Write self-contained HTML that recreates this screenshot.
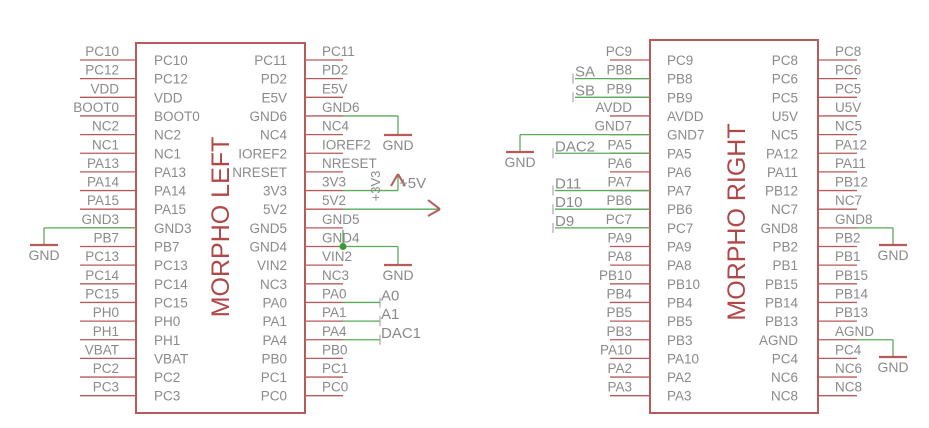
<!DOCTYPE html>
<html><head><meta charset="utf-8"><style>
html,body{margin:0;padding:0;background:#fff;}
svg{display:block;}
text{font-family:"Liberation Sans",sans-serif;fill:#8a8a8a;}
</style></head><body>
<svg id="s" width="929" height="428" viewBox="0 0 929 428" xmlns="http://www.w3.org/2000/svg">
<g id="g"></g>
<text x="0" y="0" font-size="25" style="fill:#b04848" transform="translate(229,227) rotate(-90)" text-anchor="middle">MORPHO LEFT</text>
<text x="0" y="0" font-size="25" style="fill:#b04848" transform="translate(745,222) rotate(-90)" text-anchor="middle">MORPHO RIGHT</text>
<text x="0" y="0" font-size="13" transform="translate(380,186) rotate(-90)" text-anchor="middle">+3V3</text>
</svg>
<script>
var g=document.getElementById('g'),h='';
function L(x1,y1,x2,y2,c,w){h+='<line x1="'+x1+'" y1="'+y1+'" x2="'+x2+'" y2="'+y2+'" stroke="'+c+'" stroke-width="'+(w||1.3)+'"/>';}
function T(x,y,t,a,s){h+='<text x="'+x+'" y="'+y+'" font-size="'+(s||13.5)+'" text-anchor="'+(a||'start')+'">'+t+'</text>';}
var R='#b85a5a',G='#5aaa5a';
function Y(i){return 60+18.65*i;}
var LL=['PC10','PC12','VDD','BOOT0','NC2','NC1','PA13','PA14','PA15','GND3','PB7','PC13','PC14','PC15','PH0','PH1','VBAT','PC2','PC3'];
var LR=['PC11','PD2','E5V','GND6','NC4','IOREF2','NRESET','3V3','5V2','GND5','GND4','VIN2','NC3','PA0','PA1','PA4','PB0','PC1','PC0'];
var RL=['PC9','PB8','PB9','AVDD','GND7','PA5','PA6','PA7','PB6','PC7','PA9','PA8','PB10','PB4','PB5','PB3','PA10','PA2','PA3'];
var RR=['PC8','PC6','PC5','U5V','NC5','PA12','PA11','PB12','NC7','GND8','PB2','PB1','PB15','PB14','PB13','AGND','PC4','NC6','NC8'];
h+='<rect x="136" y="43" width="169" height="370" fill="none" stroke="'+R+'" stroke-width="2"/>';
h+='<rect x="650" y="40" width="168" height="373" fill="none" stroke="'+R+'" stroke-width="2"/>';
for(var i=0;i<19;i++){var y=Y(i);
 L(80,y,136,y,R);T(119,y-4,LL[i],'end');T(154,y+5,LL[i]);
 L(305,y,343,y,R);T(322,y-4,LR[i]);T(287,y+5,LR[i],'end');
 L(610,y,650,y,R);T(632,y-4,RL[i],'end');T(667,y+5,RL[i]);
 L(818,y,857,y,R);T(835,y-4,RR[i]);T(798,y+5,RR[i],'end');
}
function gnd(x,y){L(x-14,y,x+14,y,R,2.2);T(x,y+15,'GND','middle',14);}
var y9=Y(9);L(44,y9,136,y9,G);L(44,y9,44,245,G);gnd(44,245);
L(343,Y(3),398,Y(3),G);L(398,Y(3),398,135,G);gnd(398,135);
L(343,Y(7),398,Y(7),G);L(398,Y(7),398,174,G);L(391,186,398,174,R,2);L(405,186,398,174,R,2);T(399,188,'+5V','start',15);
L(343,Y(8),440,Y(8),G);L(428,200,440,Y(8),R,2);L(428,216,440,Y(8),R,2);
L(343,Y(9)+2,343,Y(10),G);L(343,Y(10),398,Y(10),G);L(398,Y(10),398,265,G);gnd(398,265);
h+='<circle cx="343" cy="'+Y(10)+'" r="3.5" fill="#3a9a3a"/>';
[[13,'A0'],[14,'A1'],[15,'DAC1']].forEach(function(a){var y=Y(a[0]);L(343,y,380,y,G);L(380,y-5,380,y+5,'#999',1);T(381,y-2,a[1],'start',15);});
[[1,'SA',575],[2,'SB',575],[5,'DAC2',555],[7,'D11',555],[8,'D10',555],[9,'D9',555]].forEach(function(a){var y=Y(a[0]);L(a[2],y,650,y,G);L(a[2]-2,y-5,a[2]-2,y+5,'#999',1);T(a[2],y-2,a[1],'start',15);});
L(520,Y(4),650,Y(4),G);L(520,Y(4),520,152,G);gnd(520,152);
L(857,Y(9),893,Y(9),G);L(893,Y(9),893,245,G);gnd(893,245);
L(857,Y(15),893,Y(15),G);L(893,Y(15),893,357,G);gnd(893,357);
g.innerHTML=h;
</script>
</body></html>
